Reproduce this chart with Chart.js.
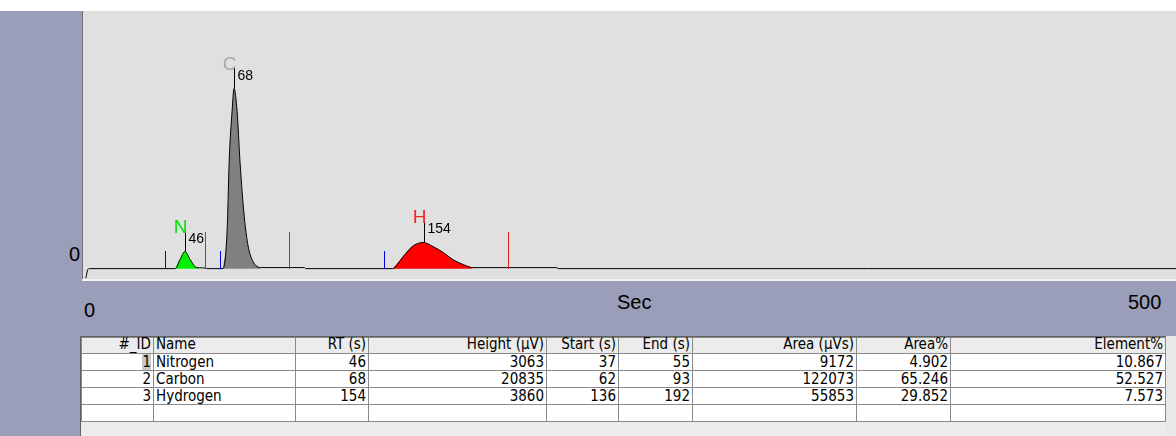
<!DOCTYPE html>
<html lang="en">
<head>
<meta charset="UTF-8" />
<title>Chromatogram</title>
<script src="https://cdn.jsdelivr.net/npm/chart.js"></script>
<style>
  html, body { margin: 0; padding: 0; }
  body {
    width: 1176px; height: 436px; position: relative; overflow: hidden;
    background: #9a9eb9; font-family: "Liberation Sans", Arial, sans-serif;
  }
  #topstrip { position: absolute; left: 0; top: 0; width: 1176px; height: 11px; background: #fff; }
  #plot {
    position: absolute; left: 82px; top: 11px; width: 1094px; height: 268px;
    background: #e0e0e0; border-left: 1px solid #707070;
  }
  #plotfoot { position: absolute; left: 82px; top: 279px; width: 1094px; height: 2px; background: #f2f2f2; }
  .lbl { position: absolute; font-size: 20px; color: #000; line-height: 20px; }
  #tablebox {
    position: absolute; left: 80px; top: 336px; width: 1096px; height: 100px;
    background: #ececec; border-left: 1px solid #606060; border-top: 1px solid #606060;
  }
  table {
    position: absolute; left: 0; top: 0; border-collapse: collapse; table-layout: fixed;
    font-family: "Liberation Sans Narrow", "DejaVu Sans Condensed", sans-serif; font-size: 15px;
  }
  td, th {
    border: 1px solid #8a8a8a; padding: 0 2px; height: 16px; line-height: 16px;
    text-align: right; white-space: nowrap; overflow: hidden; background: #fff; font-weight: normal;
  }
  th { background: #ececec; height: 15px; line-height: 13px; vertical-align: top; overflow: visible; }
  td.nm, th.nm { text-align: left; }
  #scroll { position: absolute; left: 1166px; top: 336px; width: 10px; height: 100px; background: #e8e8e8; }
</style>
</head>
<body>
<div id="topstrip"></div>
<div id="plot"><canvas id="chrom"></canvas></div>
<div id="plotfoot"></div>
<div class="lbl" style="left:69px; top:244px;">0</div>
<div class="lbl" style="left:84px; top:300px;">0</div>
<div class="lbl" style="left:617px; top:292px;">Sec</div>
<div class="lbl" style="left:1128px; top:292px;">500</div>
<div id="tablebox"><table id="tbl"></table></div>
<div id="scroll"></div>

<script>
// peak table
const peakId = [1, 2, 3];
const peakName = ['Nitrogen', 'Carbon', 'Hydrogen'];
const peakSymbol = ['N', 'C', 'H'];
const peakRT = [46, 68, 154];
const peakHeight = [3063, 20835, 3860];
const peakStart = [37, 62, 136];
const peakEnd = [55, 93, 192];
const peakArea = [9172, 122073, 55853];
const peakAreaPct = ['4.902', '65.246', '29.852'];
const peakElemPct = ['10.867', '52.527', '7.573'];
const peakColor = ['#00f000', '#808080', '#ff0000'];
const symbolColor = ['#00e000', '#a8a8a8', '#ff2020'];

// detector signal (s, µV)
const sigTime = [1.3, 2.2, 3, 41.6, 43.8, 46, 48.4, 50.6, 52.5, 55.5, 56,
  63.2, 65.1, 66.0, 67.3, 68.2, 69.6, 70.9, 72.8, 74.6, 76.8, 80, 100, 100.5,
  139.8, 144.6, 148.7, 153.6, 158, 162.7, 167, 171.7, 176, 214, 214.5, 494];
const sigValue = [-1100, -100, 0, 0, 1050, 1980, 1050, 230, 100, 60, 0,
  0, 4540, 12340, 18160, 20835, 18160, 12340, 6050, 2560, 815, 120, 120, 0,
  0, 1400, 2560, 3030, 2560, 1860, 1050, 465, 116, 116, 0, 0];

const headers = ['#_ID', 'Name', 'RT (s)', 'Height (\u00b5V)', 'Start (s)', 'End (s)', 'Area (\u00b5Vs)', 'Area%', 'Element%'];
const colWidths = [72, 142, 73, 178, 72, 74, 164, 94, 215];

// table
const tbl = document.getElementById('tbl');
let html = '<colgroup>' + colWidths.map(w => '<col style="width:' + w + 'px">').join('') + '</colgroup>';
html += '<tr>' + headers.map((h, i) => '<th' + (i === 1 ? ' class="nm"' : '') + '>' + h + '</th>').join('') + '</tr>';
peakId.forEach((id, i) => {
  const idCell = i === 0 ? '<span style="background:#c8c8c8">' + id + '</span>' : id;
  html += '<tr><td>' + idCell + '</td><td class="nm">' + peakName[i] + '</td><td>' + peakRT[i] +
    '</td><td>' + peakHeight[i] + '</td><td>' + peakStart[i] + '</td><td>' + peakEnd[i] +
    '</td><td>' + peakArea[i] + '</td><td>' + peakAreaPct[i] + '</td><td>' + peakElemPct[i] + '</td></tr>';
});
html += '<tr>' + headers.map(() => '<td>&nbsp;</td>').join('') + '</tr>';
tbl.innerHTML = html;

const points = sigTime.map((t, i) => ({ x: t, y: sigValue[i] }));

const fillSets = peakName.map((nm, i) => ({
  label: nm,
  data: points.filter(p => p.x >= peakStart[i] && p.x <= peakEnd[i]),
  borderWidth: 0,
  backgroundColor: peakColor[i],
  fill: 'origin',
  pointRadius: 0,
  cubicInterpolationMode: 'monotone',
  order: 1
}));

// start/end ticks, peak stems and labels
const peakDecor = {
  id: 'peakDecor',
  afterDatasetsDraw(chart) {
    const { ctx, scales: { x, y } } = chart;
    const y0 = Math.round(y.getPixelForValue(0));
    ctx.save();
    ctx.lineWidth = 1;
    peakName.forEach((nm, i) => {
      const xs = Math.round(x.getPixelForValue(peakStart[i])) + 0.5;
      const xe = Math.round(x.getPixelForValue(peakEnd[i])) + 0.5;
      ctx.strokeStyle = '#0000e0';
      ctx.beginPath(); ctx.moveTo(xs, y0); ctx.lineTo(xs, y0 - 18); ctx.stroke();
      ctx.strokeStyle = '#e02020';
      ctx.beginPath(); ctx.moveTo(xe, y0); ctx.lineTo(xe, y0 - 37); ctx.stroke();

      let top = 0;
      points.forEach(p => { if (p.x >= peakStart[i] && p.x <= peakEnd[i]) top = Math.max(top, p.y); });
      const xr = Math.round(x.getPixelForValue(peakRT[i])) + 0.5;
      const yp = y.getPixelForValue(top);
      const st = Math.round(yp - 21);
      ctx.strokeStyle = '#000';
      ctx.beginPath(); ctx.moveTo(xr, yp); ctx.lineTo(xr, st); ctx.stroke();

      ctx.fillStyle = symbolColor[i];
      ctx.font = '19px "Liberation Sans"';
      ctx.textAlign = 'right';
      ctx.textBaseline = 'alphabetic';
      ctx.fillText(peakSymbol[i], xr + 2, st + 2);
      ctx.fillStyle = '#000';
      ctx.font = '14px "Liberation Sans"';
      ctx.textAlign = 'left';
      ctx.textBaseline = 'top';
      ctx.fillText(String(peakRT[i]), xr + 3, st + 1);
    });
    ctx.restore();
  }
};

new Chart(document.getElementById('chrom'), {
  type: 'line',
  data: {
    datasets: [{
      label: 'Signal',
      data: points,
      borderColor: '#000',
      borderWidth: 1,
      fill: false,
      pointRadius: 0,
      cubicInterpolationMode: 'monotone',
      order: 0
    }].concat(fillSets)
  },
  options: {
    responsive: true,
    maintainAspectRatio: false,
    animation: false,
    layout: { padding: 0 },
    plugins: { legend: { display: false }, tooltip: { enabled: false } },
    scales: {
      x: { type: 'linear', min: 0, max: 494, display: false },
      y: { min: -1200, max: 29800, display: false }
    }
  },
  plugins: [peakDecor]
});
</script>
</body>
</html>
